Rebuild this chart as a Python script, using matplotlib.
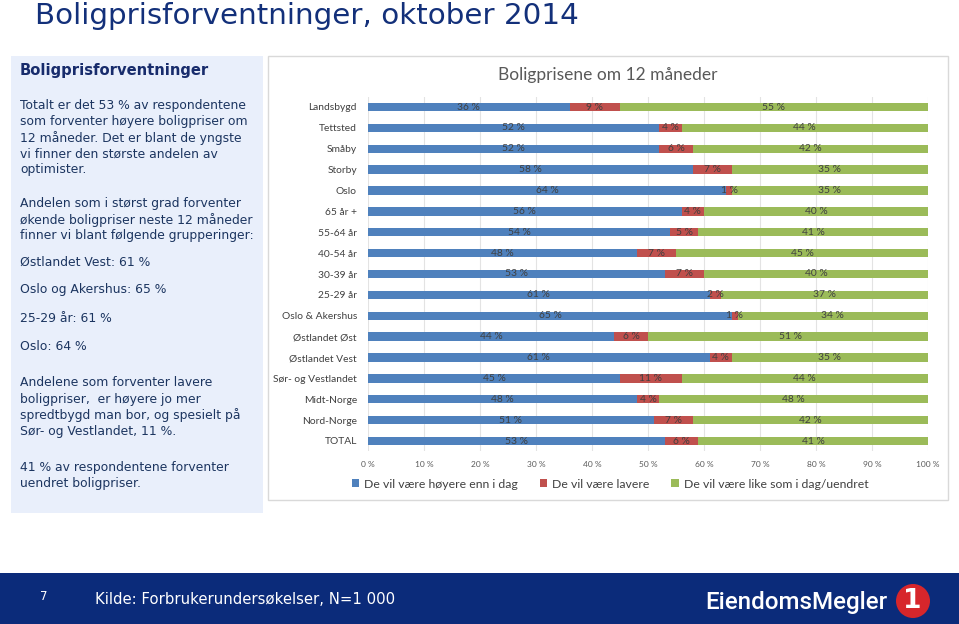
import matplotlib
matplotlib.use("Agg")
import matplotlib.pyplot as plt
from matplotlib.patches import Rectangle, Ellipse
import numpy as np

categories = ["Landsbygd", "Tettsted", "Småby", "Storby", "Oslo", "65 år +", "55-64 år",
              "40-54 år", "30-39 år", "25-29 år", "Oslo & Akershus", "Østlandet Øst",
              "Østlandet Vest", "Sør- og Vestlandet", "Midt-Norge", "Nord-Norge", "TOTAL"]
higher = [36, 52, 52, 58, 64, 56, 54, 48, 53, 61, 65, 44, 61, 45, 48, 51, 53]
lower = [9, 4, 6, 7, 1, 4, 5, 7, 7, 2, 1, 6, 4, 11, 4, 7, 6]
same = [55, 44, 42, 35, 35, 40, 41, 45, 40, 37, 34, 51, 35, 44, 48, 42, 41]
series_names = ["De vil være høyere enn i dag", "De vil være lavere",
                "De vil være like som i dag/uendret"]
xticks = list(range(0, 101, 10))
xtick_labels = [f"{t} %" for t in xticks]

W, H = 959, 624
fig = plt.figure(figsize=(W / 100, H / 100), dpi=100)
fig.patch.set_facecolor("white")

def fx(x):
    return x / W

def fy(y):
    return 1 - y / H

NAVY = "#13307a"
TEXT = "#1c3560"

# Title
fig.text(fx(35), fy(16), "Boligprisforventninger, oktober 2014", fontsize=21.2,
         color=NAVY, va="center", ha="left", family="DejaVu Sans")

# Left panel
fig.patches.append(Rectangle((fx(11), fy(513)), fx(263 - 11), (513 - 56) / H,
                             transform=fig.transFigure, facecolor="#e9effb",
                             edgecolor="none", zorder=-2))
fig.text(fx(20), fy(70), "Boligprisforventninger", fontsize=10.6, fontweight="bold",
         color="#182c6c", va="center", ha="left", family="DejaVu Sans")
lines = [
    (106, "Totalt er det 53 % av respondentene"),
    (122, "som forventer høyere boligpriser om"),
    (138, "12 måneder. Det er blant de yngste"),
    (154, "vi finner den største andelen av"),
    (170, "optimister."),
    (204, "Andelen som i størst grad forventer"),
    (220, "økende boligpriser neste 12 måneder"),
    (236, "finner vi blant følgende grupperinger:"),
    (262, "Østlandet Vest: 61 %"),
    (290, "Oslo og Akershus: 65 %"),
    (319, "25-29 år: 61 %"),
    (347, "Oslo: 64 %"),
    (383, "Andelene som forventer lavere"),
    (399, "boligpriser,  er høyere jo mer"),
    (415, "spredtbygd man bor, og spesielt på"),
    (431, "Sør- og Vestlandet, 11 %."),
    (467, "41 % av respondentene forventer"),
    (483, "uendret boligpriser."),
]
for y, s in lines:
    fig.text(fx(20), fy(y), s, fontsize=8.95, color=TEXT, va="center", ha="left",
             family="DejaVu Sans")

# Chart panel
fig.patches.append(Rectangle((fx(268), fy(500)), fx(948 - 268), (500 - 56) / H,
                             transform=fig.transFigure, facecolor="white",
                             edgecolor="#d9d9d9", linewidth=1, zorder=-2))
fig.text(fx(608), fy(75), "Boligprisene om 12 måneder", fontsize=12.5, color="#595959",
         va="center", ha="center", family="Lato")

# Bar chart axes
n = len(categories)
row = (441 - 107) / (n - 1)
top = 107 - row / 2
bottom = top + row * n
ax = fig.add_axes([fx(368), fy(bottom), fx(928 - 368), (bottom - top) / H])
ax.set_zorder(5)
ax.set_facecolor("none")
y = np.arange(n)
colors = ["#4f81bd", "#c0504d", "#9bbb59"]
left = np.zeros(n)
for vals, c, name in zip([higher, lower, same], colors, series_names):
    vals = np.array(vals, dtype=float)
    ax.barh(y, vals, left=left, height=0.4, color=c, label=name, zorder=2)
    for yi, l, v in zip(y, left, vals):
        ax.text(l + v / 2, yi, f"{int(v)} %", ha="center", va="center", fontsize=7.4,
                color="#404040", family="Lato", zorder=3)
    left = left + vals
ax.set_xlim(0, 100)
ax.set_ylim(n - 0.5, -0.5)
ax.set_yticks(y)
ax.set_yticklabels(categories, fontsize=7.4, color="#404040", family="Lato")
ax.set_xticks(xticks)
ax.set_xticklabels(xtick_labels, fontsize=6, color="#595959", family="Lato")
ax.tick_params(axis="both", length=0)
ax.tick_params(axis="y", pad=8)
ax.tick_params(axis="x", pad=7)
for s in ax.spines.values():
    s.set_visible(False)
ax.grid(axis="x", color="#e3e3e3", linewidth=0.8, zorder=0)
ax.set_axisbelow(True)

handles, labels = ax.get_legend_handles_labels()
leg = fig.legend(handles, labels, loc="center", bbox_to_anchor=(fx(610), fy(484)),
                 ncol=3, frameon=False, handlelength=0.6, handleheight=0.6,
                 handletextpad=0.4, columnspacing=1.8,
                 prop={"family": "Lato", "size": 8.8})
for t in leg.get_texts():
    t.set_color("#404040")

# Footer
fig.patches.append(Rectangle((0, 0), 1, (624 - 573) / H, transform=fig.transFigure,
                             facecolor="#0b2b7a", edgecolor="none", zorder=-2))
fig.text(fx(40), fy(597), "7", fontsize=8.5, color="white", va="center", ha="left",
         family="DejaVu Sans")
fig.text(fx(95), fy(600), "Kilde: Forbrukerundersøkelser, N=1 000", fontsize=10.7,
         color="white", va="center", ha="left", family="DejaVu Sans")
fig.text(fx(705), fy(603), "EiendomsMegler", fontsize=17.4, color="white",
         va="center", ha="left", family="Roboto", fontweight="medium")
circ = Ellipse((fx(913), fy(601)), 34 / W, 34 / H, transform=fig.transFigure,
               facecolor="#d7262b", edgecolor="none", zorder=-1)
fig.patches.append(circ)
fig.text(fx(912), fy(601), "1", fontsize=19, color="white", va="center", ha="center",
         family="DejaVu Sans", fontweight="bold")

fig.savefig("out.png", dpi=100)
